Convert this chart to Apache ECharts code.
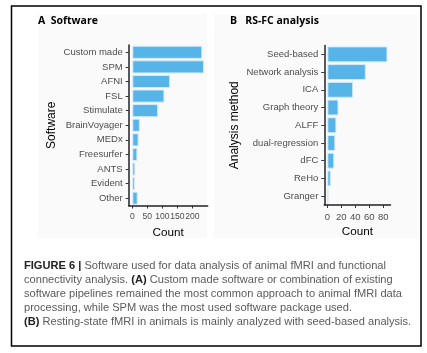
<!DOCTYPE html>
<html>
<head>
<meta charset="utf-8">
<title>Figure 6</title>
<script src="https://cdn.jsdelivr.net/npm/echarts@6/dist/echarts.min.js"></script>
<style>
  html, body { margin: 0; padding: 0; background: #fff; }
  #chart { width: 427px; height: 353px; }
</style>
</head>
<body>
<div id="chart"></div>
<script>
// panel A: software
var softNames = ['Custom made', 'SPM', 'AFNI', 'FSL', 'Stimulate', 'BrainVoyager', 'MEDx', 'Freesurfer', 'ANTS', 'Evident', 'Other'];
var softCounts = [233, 239, 126, 107, 86, 25, 21, 17, 10, 9, 18];
var softTicks = [0, 50, 100, 150, 200];

// panel B: RS-FC analysis
var methodNames = ['Seed-based', 'Network analysis', 'ICA', 'Graph theory', 'ALFF', 'dual-regression', 'dFC', 'ReHo', 'Granger'];
var methodCounts = [86, 55, 37, 16, 13, 11.5, 10, 5, 1.5];
var methodTicks = [0, 20, 40, 60, 80];

var captionLines = [
  '{b|FIGURE 6 |} Software used for data analysis of animal fMRI and functional',
  'connectivity analysis. {b|(A)} Custom made software or combination of existing',
  'software pipelines remained the most common approach to animal fMRI data',
  'processing, while SPM was the most used software package used.',
  '{b|(B)} Resting-state fMRI in animals is mainly analyzed with seed-based analysis.'
];

var FONT = 'Liberation Sans, Arial, sans-serif';
var BAR = '#56B4E9';

function valueAxis(idx, min, max, ticks, labelSize) {
  return {
    type: 'value', gridIndex: idx, min: min, max: max,
    name: 'Count', nameLocation: 'middle', nameGap: 21,
    nameTextStyle: { color: '#000', fontSize: 11.7, fontFamily: FONT },
    axisLine: { show: true, lineStyle: { color: '#222', width: 1.5 } },
    axisTick: { show: true, length: 3, lineStyle: { color: '#333' }, customValues: ticks },
    axisLabel: {
      color: '#4d4d4d', fontSize: labelSize, fontFamily: FONT, margin: 7, customValues: ticks,
      hideOverlap: false, showMinLabel: true, showMaxLabel: true
    },
    splitLine: { show: false }
  };
}

function catAxis(idx, names, title, gap) {
  return {
    type: 'category', gridIndex: idx, data: names, inverse: true,
    name: title, nameLocation: 'middle', nameGap: gap,
    nameTextStyle: { color: '#000', fontSize: 12, fontFamily: FONT },
    axisLine: { show: true, onZero: false, lineStyle: { color: '#222', width: 1.5 } },
    axisTick: { show: true, alignWithLabel: true, length: 3, lineStyle: { color: '#333' } },
    axisLabel: { color: '#4d4d4d', fontSize: 9.5, fontFamily: FONT, margin: 6 },
    splitLine: { show: false }
  };
}

var barStyle = { color: BAR, borderColor: '#d4ebf9', borderWidth: 1 };

var graphics = [
  { type: 'rect', z: -10, shape: { x: 38, y: 14, width: 169, height: 224 }, style: { fill: '#fafafa' } },
  { type: 'rect', z: -10, shape: { x: 214, y: 14, width: 205, height: 224 }, style: { fill: '#fafafa' } },
  { type: 'rect', shape: { x: 11.5, y: 6, width: 409.5, height: 340 }, style: { fill: 'none', stroke: '#000', lineWidth: 1.5 } },
  { type: 'text', left: 38, top: 16, style: { text: 'A  Software', font: 'bold 10.5px Open Sans', fill: '#000' } },
  { type: 'text', left: 230, top: 16, style: { text: 'B   RS-FC analysis', font: 'bold 10.5px Open Sans', fill: '#000' } }
];
captionLines.forEach(function (line, i) {
  graphics.push({
    type: 'text', left: 24, top: 260.5 + i * 14,
    style: {
      text: line, fill: '#5a5a5a', fontSize: 11.1, fontFamily: FONT,
      rich: { b: { fontWeight: 'bold', fill: '#222', fontSize: 11.1, fontFamily: FONT } }
    }
  });
});

var chart = echarts.init(document.getElementById('chart'), null, { renderer: 'canvas' });
chart.setOption({
  animation: false,
  grid: [
    { left: 128.7, top: 45, width: 79, height: 160.5 },
    { left: 324.3, top: 45.5, width: 66.2, height: 159.5 }
  ],
  xAxis: [
    valueAxis(0, -12, 251, softTicks, 8.6),
    valueAxis(1, -4.3, 90.3, methodTicks, 9.5)
  ],
  yAxis: [
    catAxis(0, softNames, 'Software', 71),
    catAxis(1, methodNames, 'Analysis method', 84)
  ],
  series: [
    { type: 'bar', xAxisIndex: 0, yAxisIndex: 0, data: softCounts, barWidth: '90%', itemStyle: barStyle },
    { type: 'bar', xAxisIndex: 1, yAxisIndex: 1, data: methodCounts, barWidth: '90%', itemStyle: barStyle }
  ],
  graphic: graphics
});
</script>
</body>
</html>
